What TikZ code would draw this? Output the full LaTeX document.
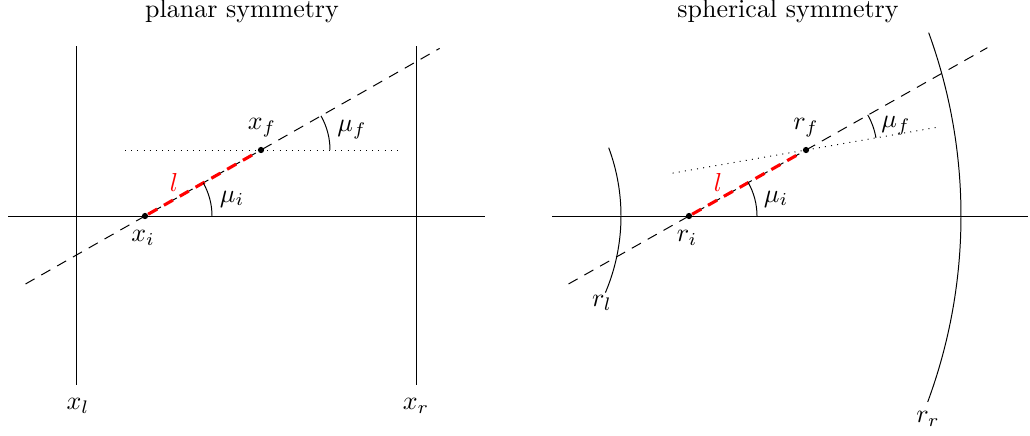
\documentclass[tikz,border=0pt]{standalone}
\usetikzlibrary{calc}
\begin{document}
\begin{tikzpicture}[x=0.385pt,y=0.385pt,line width=0.38pt,
  pt/.style={circle,fill=black,inner sep=0pt,minimum size=2.4pt},
  lab/.style={inner sep=1pt},
  ray/.style={dash pattern=on 4pt off 3pt},
  seg/.style={red,line width=1.2pt,dash pattern=on 4pt off 3pt}]
\useasboundingbox (0,-219) rectangle (1030,216);
% ---------- planar ----------
\node[lab] (t1) at (242,205) {planar symmetry};
\coordinate (a1) at (8,0); \coordinate (a2) at (485,0);
\draw (a1) -- (a2);
\coordinate (xl1) at (76,170); \coordinate (xl2) at (76,-169);
\coordinate (xr1) at (416,170); \coordinate (xr2) at (416,-169);
\draw (xl1) -- (xl2); \draw (xr1) -- (xr2);
\node[lab] (xl) at (78,-190) {$x_l$};
\node[lab] (xr) at (416,-190) {$x_r$};
\node[pt] (xi) at (145,0) {};
\node[pt] (xf) at (261,66) {};
\node[lab] (xil) at (143,-22) {$x_i$};
\node[lab] (xfl) at (262,88) {$x_f$};
\draw[ray] ($(xi)!-1.03!(xf)$) -- ($(xi)!2.54!(xf)$);
\draw[seg] (xi) -- (xf);
\coordinate (d1) at (125,66); \coordinate (d2) at (398,66);
\draw[dotted] (d1) -- (d2);
\draw ($(xi)+(67,0)$) arc[start angle=0,end angle=29.64,radius=67];
\draw ($(xf)+(69,0)$) arc[start angle=0,end angle=29.64,radius=69];
\node[lab] (mi) at (232,17) {$\mu_i$};
\node[lab] (mf) at (352,86) {$\mu_f$};
\node[lab,red] (l1) at (174,34) {$l$};
% ---------- spherical ----------
\node[lab] (t2) at (788,205) {spherical symmetry};
\coordinate (b1) at (552,0); \coordinate (b2) at (1028,0);
\draw (b1) -- (b2);
\coordinate (O) at (425,0);
\draw ($(O)+(-23:196)$) arc[start angle=-23,end angle=20.4,radius=196];
\draw ($(O)+(-20.3:536)$) arc[start angle=-20.3,end angle=20,radius=536];
\node[lab] (rl) at (602,-87) {$r_l$};
\node[lab] (rr) at (928,-203) {$r_r$};
\node[pt] (ri) at (689,0) {};
\node[pt] (rf) at (806,66) {};
\node[lab] (ril) at (687,-22) {$r_i$};
\node[lab] (rfl) at (806,88) {$r_f$};
\draw[ray] ($(ri)!-1.03!(rf)$) -- ($(ri)!2.55!(rf)$);
\draw[seg] (ri) -- (rf);
\draw[dotted] ($(O)!0.65!(rf)$) -- ($(O)!1.35!(rf)$);
\draw ($(ri)+(68,0)$) arc[start angle=0,end angle=29.64,radius=68];
\draw ($(rf)+(9.83:71)$) arc[start angle=9.83,end angle=29.64,radius=71];
\node[lab] (mi2) at (776,17) {$\mu_i$};
\node[lab] (mf2) at (896,90) {$\mu_f$};
\node[lab,red] (l2) at (718,34) {$l$};
\end{tikzpicture}
\end{document}
